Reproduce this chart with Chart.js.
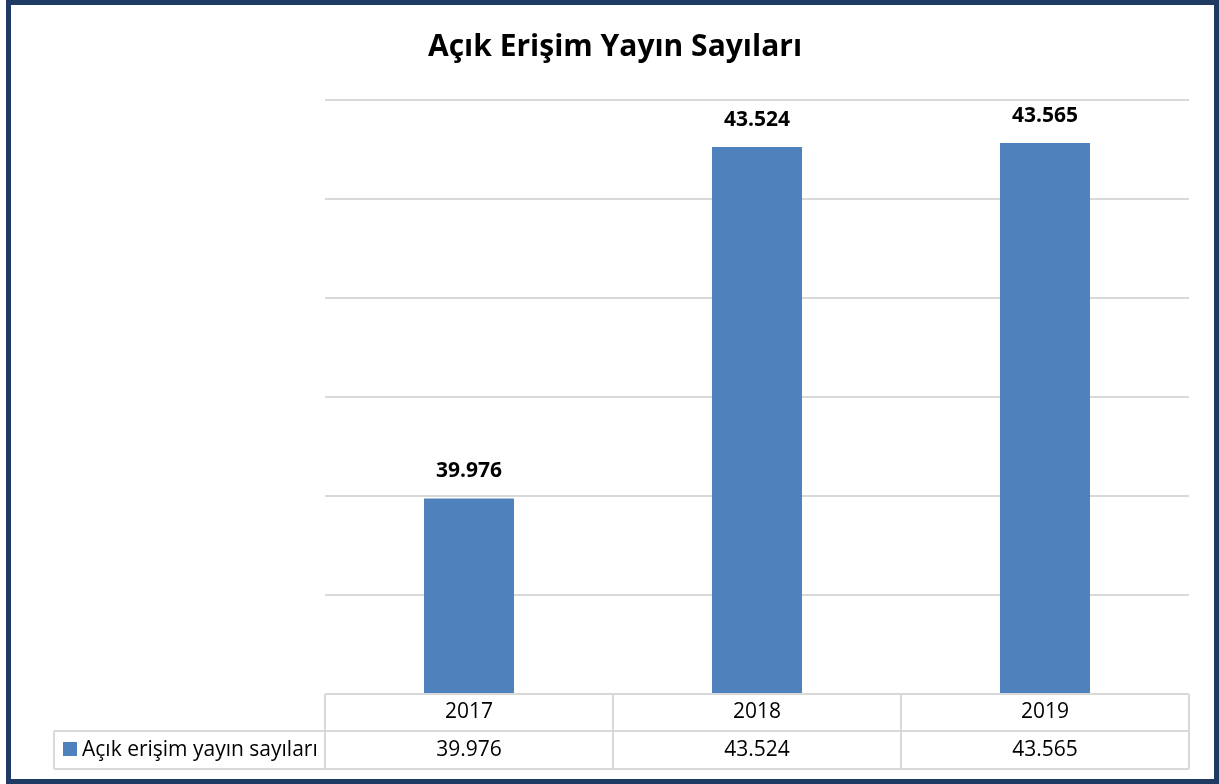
<!DOCTYPE html>
<html>
<head>
<meta charset="utf-8">
<script src="https://cdn.jsdelivr.net/npm/chart.js@4.4.1/dist/chart.umd.min.js"></script>
<style>
  html, body { margin: 0; padding: 0; background: #fff; }
  #wrap { position: relative; width: 1219px; height: 784px; }
</style>
</head>
<body>
<div id="wrap"><canvas id="chart" width="1219" height="784"></canvas></div>
<script>
const years = ["2017", "2018", "2019"];
const seriesName = "Açık erişim yayın sayıları";
const values = [39976, 43524, 43565];
const chartTitle = "Açık Erişim Yayın Sayıları";

const FONT = "'Open Sans', Lato, sans-serif";
const BAR_COLOR = "#4F81BD";
const LINE_COLOR = "#D9D9D9";

function fmt(n) {
  return String(n).replace(/\B(?=(\d{3})+(?!\d))/g, ".");
}

const excelLook = {
  id: "excelLook",
  beforeDraw(chart) {
    const ctx = chart.ctx;
    ctx.save();
    ctx.fillStyle = "#fff";
    ctx.fillRect(0, 0, chart.width, chart.height);
    ctx.restore();
  },
  afterDraw(chart) {
    const ctx = chart.ctx;
    const area = chart.chartArea;
    const x = chart.scales.x;
    const meta = chart.getDatasetMeta(0);
    ctx.save();

    // title
    ctx.fillStyle = "#000";
    ctx.font = "bold 30px " + FONT;
    ctx.textAlign = "center";
    ctx.textBaseline = "middle";
    ctx.fillText(chartTitle, 615, 47);

    // data labels
    ctx.font = "bold 21px " + FONT;
    meta.data.forEach((bar, i) => {
      ctx.fillText(fmt(values[i]), bar.x, bar.y - 27);
    });

    // data table
    const colW = (area.right - area.left) / years.length;
    const row1 = area.bottom + 37;
    const row2 = area.bottom + 75;
    const legendLeft = 54;
    ctx.strokeStyle = LINE_COLOR;
    ctx.lineWidth = 2;
    ctx.beginPath();
    ctx.moveTo(area.left, area.bottom); ctx.lineTo(area.right, area.bottom);
    ctx.moveTo(legendLeft, row1); ctx.lineTo(area.right, row1);
    ctx.moveTo(legendLeft, row2); ctx.lineTo(area.right, row2);
    ctx.moveTo(legendLeft, row1); ctx.lineTo(legendLeft, row2);
    for (let i = 0; i <= years.length; i++) {
      const cx = area.left + i * colW;
      ctx.moveTo(cx, area.bottom); ctx.lineTo(cx, row2);
    }
    ctx.stroke();

    ctx.fillStyle = "#000";
    ctx.font = "21px " + FONT;
    years.forEach((y, i) => {
      const cx = x.getPixelForValue(i);
      ctx.fillText(y, cx, (area.bottom + row1) / 2);
      ctx.fillText(fmt(values[i]), cx, (row1 + row2) / 2);
    });

    // legend key in the table
    ctx.fillStyle = BAR_COLOR;
    ctx.fillRect(63, 742, 14, 14);
    ctx.fillStyle = "#000";
    ctx.textAlign = "left";
    ctx.fillText(seriesName, 82, (row1 + row2) / 2);

    // outer frame
    ctx.strokeStyle = "#1F3B63";
    ctx.lineWidth = 5;
    ctx.strokeRect(8.5, 2.5, chart.width - 11, chart.height - 5);
    ctx.restore();
  }
};

new Chart(document.getElementById("chart"), {
  type: "bar",
  data: {
    labels: years,
    datasets: [{
      label: seriesName,
      data: values,
      backgroundColor: BAR_COLOR,
      barPercentage: 0.3125,
      categoryPercentage: 1.0
    }]
  },
  options: {
    responsive: false,
    animation: false,
    layout: { padding: { left: 325, right: 30, top: 100, bottom: 90 } },
    plugins: {
      legend: { display: false },
      title: { display: false },
      tooltip: { enabled: false }
    },
    scales: {
      x: { display: false },
      y: {
        min: 38000,
        max: 44000,
        ticks: { display: false, stepSize: 1000 },
        grid: { color: LINE_COLOR, lineWidth: 2, drawTicks: false },
        border: { display: false }
      }
    }
  },
  plugins: [excelLook]
});
</script>
</body>
</html>
